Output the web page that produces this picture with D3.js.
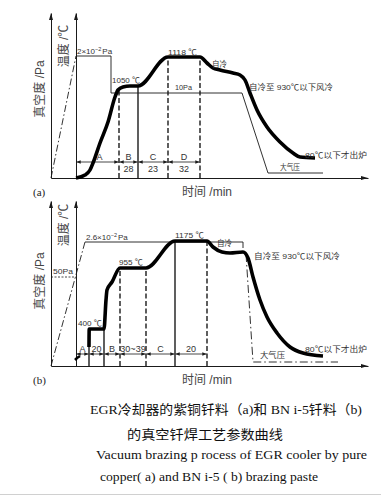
<!DOCTYPE html>
<html><head><meta charset="utf-8">
<script src="https://cdn.jsdelivr.net/npm/d3@7"></script>
<style>body{margin:0;background:#fff}svg{display:block}</style>
</head><body>
<svg id="c" width="381" height="496"></svg>
<script>
// ---------- DATA (schematic units: x = time, y = level) ----------
// Panel (a): pure copper brazing
const tempA = [[25,0],[34,3],[39,8],[42,15],[49,35],[57,56],[64,81],[67,88],[72,91],[79,92],[87,92],
  [117,121],[149,121],[156,115],[162,110],[169,108],[182,105],[189,103],[194,98],[199,85],[206,68],
  [216,51],[229,36],[242,25],[249,21],[264,20]];
const vacRampA = [[0,0],[25,122]];
const vacA = [[25,122],[60,122],[60,85],[191,85]];
const vacDropA = [[191,85],[217,5],[272,5]];
const phaseBoundsA = [25,68,87,117,149];
const phaseNamesA = ["A","B","C","D"];
const phaseMinutesA = ["","28","23","32"];
const guideTopsA = [88,92,121,121];

// Panel (b): BNi-5 brazing
const tempB = [[38,19],[38.2,37],[53,37],[55,66],[56,76],[61,84],[69,98],[95,98],[124,125],[156,125],
  [162,119],[171,114],[179,113],[192,114],[197,108],[202,89],[209,66],[216,49],[226,33],[239,19],
  [252,13],[272,10]];
const tempStartB = [[24,6],[26,8],[29,10]];
const vacRampB = [[0,0],[34,124]];
const vacB = [[34,124],[192,124],[192,118]];
const vacDropB = [[195,112],[202,4],[287,4]];
const vac50PaB = [[0,89],[25,89]];
const phaseBoundsB = [25,38,53,69,95,124,156];
const phaseNamesB = ["A","20","B","30~39","C","20"];
const guideTopsB = [37,37,98,98,125,125];

// Text labels
const labelsA = ["1050 ℃","1118 ℃","10Pa","自冷","自冷至 930℃以下风冷","80℃以下才出炉","大气压"];
const labelsB = ["50Pa","400 ℃","955 ℃","1175 ℃","自冷","自冷至 930℃以下风冷","大气压","80℃以下才出炉"];
const captionLines = ["EGR冷却器的紫铜钎料（a)和  BN i-5钎料（b)","的真空钎焊工艺参数曲线",
  "Vacuum  brazing p rocess of EGR  cooler by pure","copper( a) and BN i-5 ( b) brazing paste"];

// ---------- DRAWING ----------
const svg = d3.select("#c");
const INK = "#1a1a1a", TXT = "#333";
const defs = svg.append("defs");
defs.append("marker").attr("id","arr").attr("viewBox","0 0 6 5").attr("refX",6).attr("refY",2.5)
  .attr("markerWidth",4.5).attr("markerHeight",3.5).attr("markerUnits","userSpaceOnUse")
  .attr("orient","auto-start-reverse").append("path").attr("d","M0,0L6,2.5L0,5z").attr("fill",INK);

function panel(base, cfg){
  const x = d3.scaleLinear().domain([0,317]).range([51,368]);
  const y = d3.scaleLinear().domain([0,165]).range([base, base-165]);
  const g = svg.append("g");
  const line = d3.line().x(d=>x(d[0])).y(d=>y(d[1]));
  const smooth = d3.line().x(d=>x(d[0])).y(d=>y(d[1])).curve(d3.curveMonotoneX);

  // axes (no ticks)
  const ax = g.append("g").attr("transform",`translate(0,${base})`)
    .call(d3.axisBottom(x).tickValues([]).tickSizeOuter(0));
  ax.select(".domain").attr("stroke",INK).attr("stroke-width",1);
  [0,25].forEach(v=>{
    const a = g.append("g").attr("transform",`translate(${x(v)},0)`)
      .call(d3.axisLeft(y).tickValues([]).tickSizeOuter(0));
    a.select(".domain").attr("stroke",INK).attr("stroke-width",1);
    g.append("path").attr("d",`M${x(v)-2},${y(165)+7}L${x(v)},${y(165)}L${x(v)+2},${y(165)+7}z`).attr("fill",INK);
  });
  g.append("path").attr("d",`M${x(317)-7},${base-2}L${x(317)},${base}L${x(317)-7},${base+2}z`).attr("fill",INK);

  // vacuum line
  g.append("path").attr("d",line(cfg.vacRamp)).attr("fill","none").attr("stroke",INK)
    .attr("stroke-width",0.9).attr("stroke-dasharray","7,2.5,1.5,2.5");
  g.append("path").attr("d",line(cfg.vac)).attr("fill","none").attr("stroke",INK).attr("stroke-width",0.9);
  g.append("path").attr("d",line(cfg.vacDrop)).attr("fill","none").attr("stroke",INK)
    .attr("stroke-width",0.9).attr("stroke-dasharray",cfg.dropDash);
  if(cfg.vac50) g.append("path").attr("d",line(cfg.vac50)).attr("fill","none").attr("stroke",INK)
    .attr("stroke-width",0.8).attr("stroke-dasharray","2,1.5");

  // guides
  cfg.bounds.slice(1).forEach((b,i)=>{
    g.append("line").attr("x1",x(b)).attr("x2",x(b)).attr("y1",y(0)).attr("y2",y(cfg.tops[i]))
      .attr("stroke",INK).attr("stroke-width",1.4)
      .attr("stroke-dasharray",cfg.dashed[i]?"5,2.5":null);
  });

  // phase arrows
  for(let i=0;i<cfg.bounds.length-1;i++){
    g.append("line").attr("x1",x(cfg.bounds[i])+0.5).attr("x2",x(cfg.bounds[i+1])-0.5)
      .attr("y1",y(cfg.rowY)).attr("y2",y(cfg.rowY)).attr("stroke",INK).attr("stroke-width",0.8)
      .attr("marker-start","url(#arr)").attr("marker-end","url(#arr)");
    const cx = (x(cfg.bounds[i])+x(cfg.bounds[i+1]))/2 + (cfg.nameShift?cfg.nameShift[i]:0);
    g.append("text").attr("x",cx).attr("y",y(cfg.rowY)-2.5).attr("text-anchor","middle")
      .attr("font-size",9).attr("fill",TXT).text(cfg.names[i]);
    if(cfg.mins && cfg.mins[i]) g.append("text").attr("x",cx).attr("y",y(cfg.rowY)+10)
      .attr("text-anchor","middle").attr("font-size",9).attr("fill",TXT).text(cfg.mins[i]);
  }

  // temperature curve
  g.append("path").attr("d",smooth(cfg.temp)).attr("fill","none").attr("stroke","#000")
    .attr("stroke-width",3.6).attr("stroke-linejoin","round");
  if(cfg.tempStart) g.append("path").attr("d",line(cfg.tempStart)).attr("fill","none")
    .attr("stroke","#000").attr("stroke-width",2.5);

  // labels
  cfg.labels.forEach(l=>{
    g.append("text").attr("x",x(l.x)).attr("y",y(l.y)).attr("font-size",l.fs||8).attr("fill",TXT)
      .attr("textLength",l.w).attr("lengthAdjust","spacingAndGlyphs").text(l.t);
  });
  // pressure label with superscript
  const pt = g.append("text").attr("x",x(cfg.pLab.x)).attr("y",y(cfg.pLab.y)).attr("font-size",8).attr("fill",TXT);
  pt.append("tspan").text(cfg.pLab.t);
  pt.append("tspan").attr("font-size",5.5).attr("dy",-3).text("−2");
  pt.append("tspan").attr("dy",3).attr("dx",1).text("Pa");

  // axis titles
  const tf = 12;
  g.append("text").attr("transform",`translate(44,${cfg.vTitleY}) rotate(-90)`).attr("text-anchor","middle")
    .attr("font-size",tf).attr("fill","#444").text("真空度 /Pa");
  g.append("text").attr("transform",`translate(68,${cfg.tTitleY}) rotate(-90)`).attr("text-anchor","middle")
    .attr("font-size",tf).attr("fill","#444").text("温度 /℃");
  g.append("text").attr("x",207).attr("y",base+18).attr("text-anchor","middle")
    .attr("font-size",tf).attr("fill","#444").text("时间 /min");
  g.append("text").attr("x",33).attr("y",base+18).attr("font-size",11).attr("fill","#222")
    .attr("font-family","Liberation Serif, serif").text(cfg.tag);
}

svg.attr("font-family","Liberation Sans, Noto Sans CJK SC, sans-serif");

panel(178, {
  temp: tempA, vacRamp: vacRampA, vac: vacA, vacDrop: vacDropA, dropDash: null,
  bounds: phaseBoundsA, names: phaseNamesA, mins: phaseMinutesA, tops: guideTopsA,
  dashed: [true,false,true,true], rowY: 16, nameShift:[2,0,0,0],
  labels: [
    {t:labelsA[0],x:61,y:95,w:28},{t:labelsA[1],x:117,y:123,w:29},{t:labelsA[2],x:124,y:88,w:17},
    {t:labelsA[3],x:161,y:111,w:15},{t:labelsA[4],x:198,y:88,w:84},{t:labelsA[5],x:254,y:20,w:62},
    {t:labelsA[6],x:229,y:8,w:20}
  ],
  pLab:{t:"2×10",x:26,y:124}, vTitleY:89, tTitleY:46, tag:"(a)"
});

panel(366, {
  temp: tempB, tempStart: tempStartB, vacRamp: vacRampB, vac: vacB, vacDrop: vacDropB, vac50: vac50PaB,
  dropDash: "8,3,1.5,3",
  bounds: phaseBoundsB, names: phaseNamesB, mins: null, tops: guideTopsB,
  dashed: [false,false,true,true,false,true], rowY: 12,
  labels: [
    {t:labelsB[0],x:2,y:92,w:20},{t:labelsB[1],x:27,y:40,w:24},{t:labelsB[2],x:68,y:101,w:24},
    {t:labelsB[3],x:124,y:128,w:29},{t:labelsB[4],x:166,y:120,w:15},{t:labelsB[5],x:203,y:107,w:86},
    {t:labelsB[6],x:209,y:8,w:25},{t:labelsB[7],x:254,y:14,w:62}
  ],
  pLab:{t:"2.6×10",x:35,y:126}, vTitleY:281, tTitleY:225, tag:"(b)"
});

// caption
const cap = svg.append("g").attr("fill","#111");
const capSpec = [{x:90,y:414,w:272,f:"Liberation Serif, Noto Sans CJK SC, serif"},
  {x:127,y:439,w:156,f:"Noto Sans CJK SC, serif"},
  {x:96,y:459,w:271,f:"Liberation Serif, serif"},
  {x:100,y:481,w:218,f:"Liberation Serif, serif"}];
captionLines.forEach((t,i)=>{
  const s = capSpec[i];
  cap.append("text").attr("x",s.x).attr("y",s.y).attr("font-size",13).attr("font-family",s.f)
    .attr("textLength",s.w).attr("lengthAdjust","spacingAndGlyphs").text(t);
});
svg.append("line").attr("x1",0).attr("x2",381).attr("y1",494.5).attr("y2",494.5)
  .attr("stroke","#d0d0d0").attr("stroke-width",1);
</script>
</body></html>
